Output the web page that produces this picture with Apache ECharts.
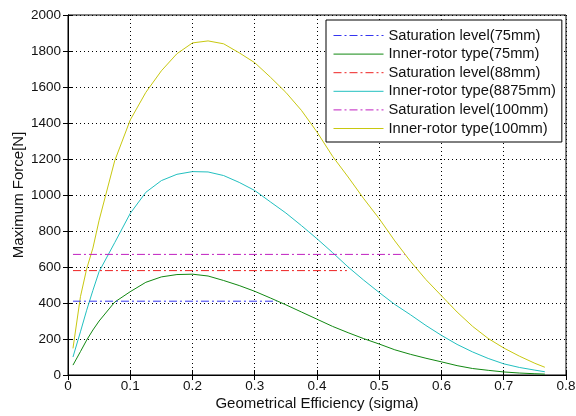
<!DOCTYPE html>
<html>
<head>
<meta charset="utf-8">
<script src="https://cdn.jsdelivr.net/npm/echarts@6/dist/echarts.min.js"></script>
<style>html,body{margin:0;padding:0;background:#fff;}#c{width:576px;height:416px;}</style>
</head>
<body>
<div id="c"></div>
<script>
var xs      = [0.008,0.02,0.03,0.04,0.05,0.075,0.1,0.125,0.15,0.175,0.2,0.225,0.25,0.275,0.3,0.325,0.35,0.375,0.4,0.425,0.45,0.475,0.5,0.525,0.55,0.575,0.6,0.625,0.65,0.675,0.7,0.725,0.75,0.766];
var inner75 = [55,130,194,250,300,405,463,515,545,558,560,550,525,497,465,428,390,350,310,270,235,202,172,140,115,93,73,52,36,26,17,11,7,5];
var inner88 = [100,240,360,470,575,735,898,1015,1080,1115,1130,1128,1108,1070,1025,962,900,830,757,680,600,527,458,392,335,275,220,170,128,92,62,42,27,18];
var inner100= [148,435,590,705,860,1190,1417,1570,1690,1785,1845,1856,1840,1790,1735,1655,1570,1470,1350,1215,1100,980,868,745,632,530,440,350,270,203,150,105,65,43];
var satLevels = [410,580,670];
var satStart  = [0.008,0.008,0.008];
var satEnd    = [0.335,0.448,0.541];
var names = ['Saturation level(75mm)','Inner-rotor type(75mm)','Saturation level(88mm)','Inner-rotor type(8875mm)','Saturation level(100mm)','Inner-rotor type(100mm)'];
var colors = ['#3535f0','#118811','#ee2222','#22c0c0','#c020c0','#c8c810'];

function pairs(y){return xs.map(function(x,i){return [x,y[i]];});}
function sat(i){return [[satStart[i],satLevels[i]],[satEnd[i],satLevels[i]]];}
var dashdot=[8,3,2,3];
function lineSeries(name,data,color,dashed){
  return {name:name,type:'line',data:data,symbol:'none',smooth:false,silent:true,animation:false,
    lineStyle:{color:color,width:1,type:dashed?dashdot:'solid'},itemStyle:{color:color},z:dashed?3:2};
}
var font='Liberation Sans, Arial, sans-serif';
var chart=echarts.init(document.getElementById('c'),null,{renderer:'canvas'});
chart.setOption({
  backgroundColor:'#fff',
  animation:false,
  grid:{left:68,right:10,top:15,bottom:41,containLabel:false,outerBoundsMode:'none',show:true,borderColor:'#000',borderWidth:1,backgroundColor:'transparent'},
  legend:{
    data:names,orient:'vertical',left:326,top:20,
    backgroundColor:'#fff',borderColor:'#000',borderWidth:1,
    padding:[8,6,6,7],itemWidth:50,itemHeight:14,itemGap:3.6,
    itemStyle:{opacity:0,borderWidth:0},
    lineStyle:{width:1,color:'inherit'},
    textStyle:{fontFamily:font,fontSize:14.7,color:'#111'},
    selectedMode:false
  },
  xAxis:[{
    type:'value',min:0,max:0.8,interval:0.1,
    name:'Geometrical Efficiency (sigma)',nameLocation:'middle',nameGap:21,nameMoveOverlap:false,
    nameTextStyle:{fontFamily:font,fontSize:15,color:'#111'},
    axisLine:{show:true,lineStyle:{color:'#000',width:1}},
    axisTick:{show:true,inside:true,length:5,lineStyle:{color:'#000'}},
    axisLabel:{fontFamily:font,fontSize:13.5,color:'#111',margin:4},
    splitLine:{show:true,lineStyle:{color:'#000',type:[1,3],width:1}}
  },{
    type:'value',min:0,max:0.8,interval:0.1,position:'top',
    axisLine:{show:true,lineStyle:{color:'#000'}},
    axisTick:{show:true,inside:true,length:5,lineStyle:{color:'#000'}},
    axisLabel:{show:false},splitLine:{show:false}
  }],
  yAxis:[{
    type:'value',min:0,max:2000,interval:200,
    name:'Maximum Force[N]',nameLocation:'middle',nameGap:42,nameMoveOverlap:false,
    nameTextStyle:{fontFamily:font,fontSize:15,color:'#111'},
    axisLine:{show:true,lineStyle:{color:'#000',width:1}},
    axisTick:{show:true,inside:true,length:5,lineStyle:{color:'#000'}},
    axisLabel:{fontFamily:font,fontSize:13.5,color:'#111',margin:7,formatter:function(v){return String(v);}},
    splitLine:{show:true,lineStyle:{color:'#000',type:[1,3],width:1}}
  },{
    type:'value',min:0,max:2000,interval:200,position:'right',
    axisLine:{show:true,lineStyle:{color:'#000'}},
    axisTick:{show:true,inside:true,length:5,lineStyle:{color:'#000'}},
    axisLabel:{show:false},splitLine:{show:false}
  }],
  series:[
    lineSeries(names[0],sat(0),colors[0],true),
    lineSeries(names[1],pairs(inner75),colors[1],false),
    lineSeries(names[2],sat(1),colors[2],true),
    lineSeries(names[3],pairs(inner88),colors[3],false),
    lineSeries(names[4],sat(2),colors[4],true),
    lineSeries(names[5],pairs(inner100),colors[5],false)
  ]
});
</script>
</body>
</html>
